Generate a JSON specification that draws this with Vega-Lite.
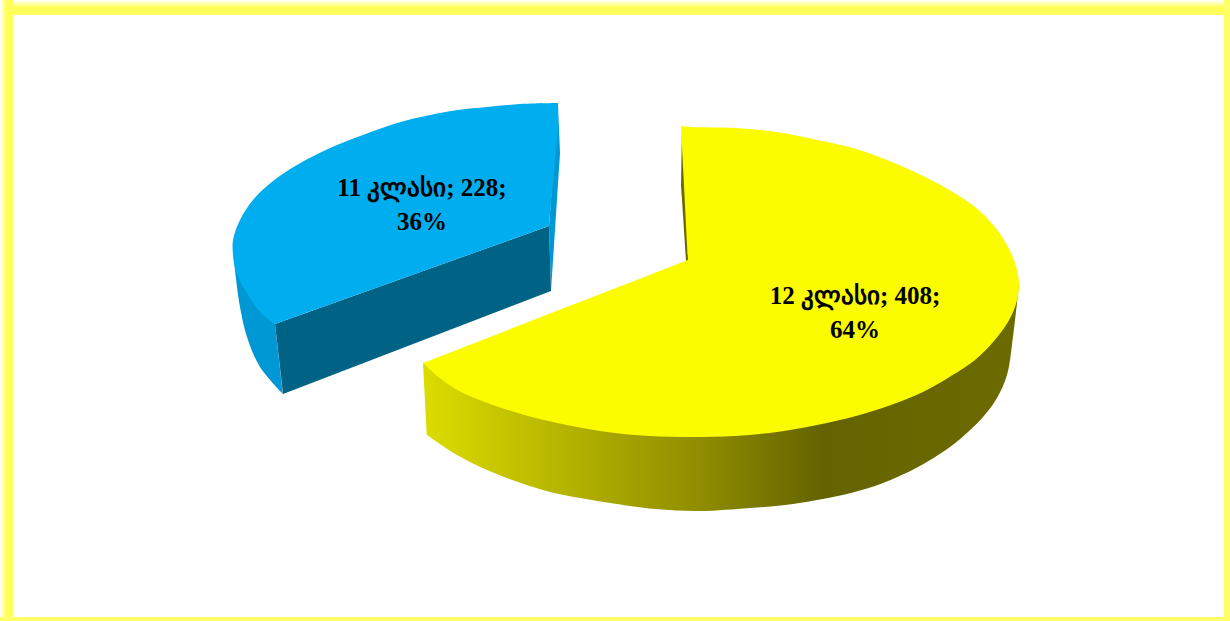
{"$schema":"https://vega.github.io/schema/vega-lite/v6.json","width":1230,"height":621,"padding":0,"autosize":{"type":"none"},"background":"#ffffff","config":{"view":{"stroke":null}},
"datasets":{
"frame":[{"side":"top","x":0,"x2":1230,"y":0,"y2":15},{"side":"left","x":0,"x2":13,"y":0,"y2":621},{"side":"right","x":1224,"x2":1230,"y":0,"y2":621},{"side":"bottom","x":0,"x2":1230,"y":617,"y2":621}],
"outline":[
{"part":"ySide","i":1,"x":423,"y":363},{"part":"ySide","i":1.5,"x":423,"y":363},{"part":"ySide","i":2,"x":427,"y":435},{"part":"ySide","i":2.5,"x":427,"y":435},{"part":"ySide","i":3,"x":457,"y":455},{"part":"ySide","i":4,"x":487,"y":470},{"part":"ySide","i":5,"x":518,"y":482},{"part":"ySide","i":6,"x":550,"y":492},{"part":"ySide","i":7,"x":580,"y":498},{"part":"ySide","i":8,"x":610,"y":503},{"part":"ySide","i":9,"x":655,"y":509},{"part":"ySide","i":10,"x":700,"y":511},{"part":"ySide","i":11,"x":750,"y":508},{"part":"ySide","i":12,"x":785,"y":505},{"part":"ySide","i":13,"x":817,"y":500},{"part":"ySide","i":14,"x":851,"y":493},{"part":"ySide","i":15,"x":883,"y":483},{"part":"ySide","i":16,"x":918,"y":467},{"part":"ySide","i":17,"x":950,"y":447},{"part":"ySide","i":18,"x":968,"y":432},{"part":"ySide","i":19,"x":983,"y":417},{"part":"ySide","i":20,"x":997,"y":398},{"part":"ySide","i":21,"x":1007,"y":375},{"part":"ySide","i":22,"x":1012,"y":345},{"part":"ySide","i":23,"x":1017,"y":303},{"part":"ySide","i":23.5,"x":1017,"y":303},{"part":"ySide","i":24,"x":1019,"y":285},{"part":"ySide","i":24.5,"x":1019,"y":285},
{"part":"ySliver","i":1,"x":682,"y":127},{"part":"ySliver","i":2,"x":681,"y":185},{"part":"ySliver","i":3,"x":686,"y":261},{"part":"ySliver","i":4,"x":692,"y":259},
{"part":"yTop","i":1,"x":688,"y":260},{"part":"yTop","i":1.5,"x":688,"y":260},{"part":"yTop","i":2,"x":423,"y":363},{"part":"yTop","i":2.5,"x":423,"y":363},{"part":"yTop","i":3,"x":441,"y":379},{"part":"yTop","i":4,"x":461,"y":392},{"part":"yTop","i":5,"x":493,"y":405},{"part":"yTop","i":6,"x":528,"y":416},{"part":"yTop","i":7,"x":567,"y":425},{"part":"yTop","i":8,"x":607,"y":432},{"part":"yTop","i":9,"x":649,"y":436},{"part":"yTop","i":10,"x":692,"y":437},{"part":"yTop","i":11,"x":735,"y":436},{"part":"yTop","i":12,"x":777,"y":432},{"part":"yTop","i":13,"x":817,"y":425},{"part":"yTop","i":14,"x":856,"y":416},{"part":"yTop","i":15,"x":891,"y":405},{"part":"yTop","i":16,"x":923,"y":392},{"part":"yTop","i":17,"x":951,"y":376},{"part":"yTop","i":18,"x":975,"y":360},{"part":"yTop","i":19,"x":994,"y":341},{"part":"yTop","i":20,"x":1008,"y":322},{"part":"yTop","i":21,"x":1016,"y":304},{"part":"yTop","i":22,"x":1019,"y":285},{"part":"yTop","i":23,"x":1016,"y":266},{"part":"yTop","i":24,"x":1008,"y":247},{"part":"yTop","i":25,"x":994,"y":226},{"part":"yTop","i":26,"x":975,"y":207},{"part":"yTop","i":27,"x":951,"y":191},{"part":"yTop","i":28,"x":921,"y":175},{"part":"yTop","i":29,"x":887,"y":160},{"part":"yTop","i":30,"x":853,"y":148},{"part":"yTop","i":31,"x":817,"y":140},{"part":"yTop","i":32,"x":777,"y":132},{"part":"yTop","i":33,"x":735,"y":128},{"part":"yTop","i":34,"x":692,"y":127},{"part":"yTop","i":35,"x":681,"y":126},{"part":"yTop","i":35.5,"x":681,"y":126},
{"part":"bOuter","i":1,"x":233,"y":248},{"part":"bOuter","i":1.5,"x":233,"y":248},{"part":"bOuter","i":2,"x":235,"y":270},{"part":"bOuter","i":3,"x":240,"y":307},{"part":"bOuter","i":4,"x":247,"y":337},{"part":"bOuter","i":5,"x":260,"y":367},{"part":"bOuter","i":6,"x":283,"y":394},{"part":"bOuter","i":6.5,"x":283,"y":394},{"part":"bOuter","i":7,"x":275,"y":324},{"part":"bOuter","i":7.5,"x":275,"y":324},
{"part":"bCut","i":1,"x":275,"y":324},{"part":"bCut","i":2,"x":549,"y":226},{"part":"bCut","i":3,"x":551,"y":291},{"part":"bCut","i":4,"x":283,"y":394},
{"part":"bSliver","i":1,"x":558,"y":105},{"part":"bSliver","i":2,"x":560,"y":153},{"part":"bSliver","i":3,"x":551,"y":291},{"part":"bSliver","i":4,"x":549,"y":226},
{"part":"bTop","i":1,"x":558,"y":103},{"part":"bTop","i":1.5,"x":558,"y":103},{"part":"bTop","i":2,"x":520,"y":104},{"part":"bTop","i":3,"x":487,"y":107},{"part":"bTop","i":4,"x":458,"y":110},{"part":"bTop","i":5,"x":430,"y":115},{"part":"bTop","i":6,"x":397,"y":123},{"part":"bTop","i":7,"x":363,"y":135},{"part":"bTop","i":8,"x":330,"y":148},{"part":"bTop","i":9,"x":297,"y":165},{"part":"bTop","i":10,"x":273,"y":181},{"part":"bTop","i":11,"x":253,"y":200},{"part":"bTop","i":12,"x":240,"y":220},{"part":"bTop","i":13,"x":233,"y":240},{"part":"bTop","i":15,"x":233,"y":255},{"part":"bTop","i":17,"x":235,"y":268},{"part":"bTop","i":18,"x":240,"y":281},{"part":"bTop","i":19,"x":247,"y":293},{"part":"bTop","i":20,"x":254,"y":304},{"part":"bTop","i":21,"x":263,"y":315},{"part":"bTop","i":22,"x":275,"y":324},{"part":"bTop","i":22.5,"x":275,"y":324},{"part":"bTop","i":23,"x":549,"y":226},{"part":"bTop","i":23.5,"x":549,"y":226},{"part":"bTop","i":24,"x":558,"y":130},{"part":"bTop","i":24.5,"x":558,"y":130}
],
"labels":[{"klass":"11 კლასი","count":228,"share":"36%","label":"11 კლასი; 228;\n36%","x":422,"y":188},{"klass":"12 კლასი","count":408,"share":"64%","label":"12 კლასი; 408;\n64%","x":855,"y":296}]
},
"encoding":{
"x":{"field":"x","type":"quantitative","axis":null,"scale":{"domain":[0,1230],"nice":false,"zero":false}},
"y":{"field":"y","type":"quantitative","axis":null,"scale":{"domain":[621,0],"nice":false,"zero":false}}
},
"layer":[
{"data":{"name":"frame"},"transform":[{"filter":"datum.side=='top'"}],"mark":{"type":"rect","fill":{"gradient":"linear","x1":0,"y1":0,"x2":0,"y2":1,"stops":[{"offset":0,"color":"#ffffff"},{"offset":0.5,"color":"#ffff55"},{"offset":1,"color":"#ffff60"}]}},"encoding":{"x2":{"field":"x2"},"y2":{"field":"y2"}}},
{"data":{"name":"frame"},"transform":[{"filter":"datum.side=='left'"}],"mark":{"type":"rect","fill":{"gradient":"linear","x1":0,"y1":0,"x2":1,"y2":0,"stops":[{"offset":0,"color":"#ffffff"},{"offset":0.5,"color":"#ffff55"},{"offset":1,"color":"#ffff60"}]}},"encoding":{"x2":{"field":"x2"},"y2":{"field":"y2"}}},
{"data":{"name":"frame"},"transform":[{"filter":"datum.side=='right'||datum.side=='bottom'"}],"mark":{"type":"rect","fill":"#ffff66"},"encoding":{"x2":{"field":"x2"},"y2":{"field":"y2"}}},
{"data":{"name":"outline"},"transform":[{"filter":"datum.part=='ySide'"}],"mark":{"type":"line","interpolate":"catmull-rom-closed","strokeWidth":0,"fill":{"gradient":"linear","x1":0,"y1":0,"x2":1,"y2":0,"stops":[{"offset":0,"color":"#dcdc00"},{"offset":0.47,"color":"#8e8c00"},{"offset":0.67,"color":"#646300"},{"offset":1,"color":"#6c6b00"}]}},"encoding":{"order":{"field":"i","type":"quantitative"}}},
{"data":{"name":"outline"},"transform":[{"filter":"datum.part=='ySliver'"}],"mark":{"type":"line","interpolate":"linear-closed","strokeWidth":0,"fill":"#6b6a00"},"encoding":{"order":{"field":"i","type":"quantitative"}}},
{"data":{"name":"outline"},"transform":[{"filter":"datum.part=='yTop'"}],"mark":{"type":"line","interpolate":"catmull-rom-closed","strokeWidth":0,"fill":"#fcfc00"},"encoding":{"order":{"field":"i","type":"quantitative"}}},
{"data":{"name":"outline"},"transform":[{"filter":"datum.part=='bOuter'"}],"mark":{"type":"line","interpolate":"catmull-rom-closed","strokeWidth":0,"fill":"#0098d4"},"encoding":{"order":{"field":"i","type":"quantitative"}}},
{"data":{"name":"outline"},"transform":[{"filter":"datum.part=='bSliver'"}],"mark":{"type":"line","interpolate":"linear-closed","strokeWidth":0,"fill":"#0098d4"},"encoding":{"order":{"field":"i","type":"quantitative"}}},
{"data":{"name":"outline"},"transform":[{"filter":"datum.part=='bCut'"}],"mark":{"type":"line","interpolate":"linear-closed","strokeWidth":0,"fill":"#006285"},"encoding":{"order":{"field":"i","type":"quantitative"}}},
{"data":{"name":"outline"},"transform":[{"filter":"datum.part=='bTop'"}],"mark":{"type":"line","interpolate":"catmull-rom-closed","strokeWidth":0,"fill":"#00aeef"},"encoding":{"order":{"field":"i","type":"quantitative"}}},
{"data":{"name":"labels"},"mark":{"type":"text","font":"Liberation Serif","fontSize":25,"fontWeight":"bold","color":"#000000","align":"center","baseline":"middle","lineBreak":"\n","lineHeight":34},"encoding":{"text":{"field":"label"}}}
]}
